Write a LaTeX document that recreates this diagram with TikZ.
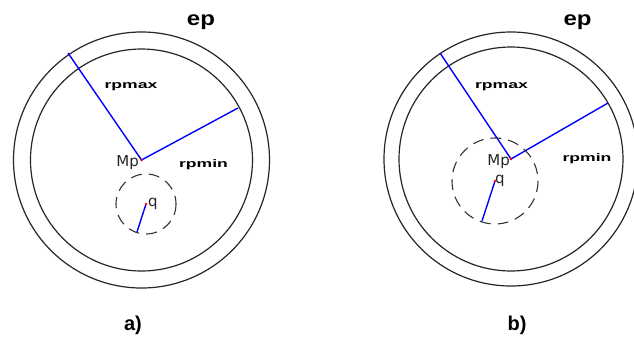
\documentclass[tikz,border=0pt]{standalone}
\usepackage{fontspec}
\setmainfont{Liberation Sans}
\newfontfamily\ptfont{DejaVu Sans}
\newcommand{\widelbl}[1]{\scalebox{1.6}[1]{#1}}
\begin{document}
\begin{tikzpicture}[x=1pt,y=-1pt,
  ring/.style={draw=black!85,line width=1.2pt},
  dashring/.style={draw=black!80,line width=1.1pt,dash pattern=on 11pt off 7pt},
  radius line/.style={draw=blue,line width=1.4pt},
  dot/.style={circle,fill=red,inner sep=0pt,minimum size=2.8pt},
  biglbl/.style={font=\fontsize{20}{20}\selectfont\bfseries,inner sep=0pt},
  smalllbl/.style={font=\fontsize{11}{11}\selectfont\bfseries,inner sep=0pt},
  ptlbl/.style={font=\ptfont\fontsize{15}{15}\selectfont,text=black!85,inner sep=0pt}]
\useasboundingbox (0,0) rectangle (634,338);
\fill[white] (0,0) rectangle (634,338);
% ---------- panel a ----------
\coordinate (Ma) at (141.5,160);
\draw[ring] (Ma) circle[radius=128];
\draw[ring] (Ma) circle[radius=111];
\coordinate (Amax) at (68,53);
\coordinate (Amin) at (238,108);
\draw[radius line] (Amax) -- (Ma) -- (Amin);
\coordinate (Qa) at (146,204);
\draw[dashring] (Qa) circle[radius=30];
\coordinate (Qae) at (137,232);
\draw[radius line] (Qa) -- (Qae);
\node[dot] (dMa) at (Ma) {};
\node[dot] (dQa) at (Qa) {};
\node[biglbl] (epa) at (201,22) {\scalebox{1.2}[1]{ep}};
\node[smalllbl] (rpmaxa) at (131,87) {\widelbl{rpmax}};
\node[smalllbl] (rpmina) at (203.5,165) {\widelbl{rpmin}};
\node[ptlbl,anchor=base east] (Mpa) at (139,166) {Mp};
\node[ptlbl,anchor=base west] (qa) at (148,206) {q};
\node[biglbl] (la) at (133,325) {a)};
% ---------- panel b ----------
\coordinate (Mb) at (511,159);
\draw[ring] (Mb) circle[radius=127];
\draw[ring] (Mb) circle[radius=112];
\coordinate (Bmax) at (440,53);
\coordinate (Bmin) at (608,103);
\draw[radius line] (Bmax) -- (Mb) -- (Bmin);
\coordinate (Qb) at (495,181);
\draw[dashring] (Qb) circle[radius=43];
\coordinate (Qbe) at (482,221);
\draw[radius line] (Qb) -- (Qbe);
\node[dot] (dMb) at (Mb) {};
\node[dot] (dQb) at (Qb) {};
\node[biglbl] (epb) at (577.5,22) {\scalebox{1.2}[1]{ep}};
\node[smalllbl] (rpmaxb) at (501.5,87) {\widelbl{rpmax}};
\node[smalllbl] (rpminb) at (587,159) {\widelbl{rpmin}};
\node[ptlbl,anchor=base east] (Mpb) at (510,165) {Mp};
\node[ptlbl,anchor=base west] (qb) at (495,183) {q};
\node[biglbl] (lb) at (517,325) {b)};
\end{tikzpicture}
\end{document}
